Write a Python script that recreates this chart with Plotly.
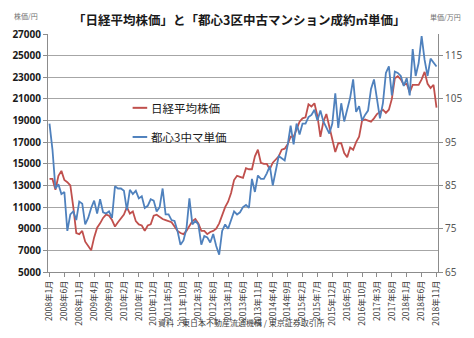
import plotly.graph_objects as go

# Month labels 2008年1月 .. 2018年11月
months = [f"{y}年{m}月" for y in range(2008, 2019) for m in range(1, 13)][:131]

# 日経平均株価 (円)
nikkei = [
    13600, 13600, 12600, 13900, 14350, 13500, 13300, 13000, 11000, 8600, 8500, 8800,   # 2008
    7800, 7400, 7000, 8200, 9100, 9500, 10000, 10300, 10200, 9800, 9200, 9600,         # 2009
    9900, 10300, 11000, 10400, 10600, 9700, 9400, 9300, 8800, 9300, 9400, 10200,       # 2010
    10300, 10100, 9900, 9800, 9700, 9600, 9200, 8800, 8600, 8500, 8800, 9200,          # 2011
    9700, 9900, 9500, 8800, 8800, 8500, 8700, 8800, 9000, 9500, 10300, 11000,          # 2012
    11500, 12300, 13500, 13900, 13800, 13700, 14600, 14500, 14500, 15700, 16300, 15100,  # 2013
    15000, 15000, 14500, 15100, 15400, 15700, 16300, 16400, 16800, 17500, 17500, 18200,  # 2014
    18900, 19200, 19300, 20500, 20300, 20600, 19400, 17500, 18900, 19600, 18500, 17400,  # 2015
    16100, 16900, 16900, 16000, 15600, 16500, 16300, 17000, 17500, 19000, 19100, 19000,  # 2016
    18900, 19200, 19600, 19800, 20000, 19700, 20000, 21000, 22900, 23100, 22800, 22300,  # 2017
    22400, 21600, 22300, 22300, 22300, 22800, 23500, 22400, 22000, 22300, 20200,         # 2018
]

# 都心3区中古マンション成約㎡単価 (万円)
condo = [
    99.3, 93.3, 84.3, 85.3, 83.0, 83.5, 74.5, 78.3, 79.0, 77.0, 81.3, 80.8,       # 2008
    76.0, 77.5, 79.8, 81.5, 78.5, 81.8, 78.8, 78.5, 79.0, 77.5, 84.8, 84.3,       # 2009
    84.3, 83.8, 79.3, 84.0, 83.0, 83.8, 82.0, 82.5, 79.8, 80.3, 81.8, 81.5,       # 2010
    79.0, 80.0, 84.3, 78.3, 78.3, 77.0, 76.8, 74.5, 71.3, 72.3, 75.0, 82.0,       # 2011
    76.0, 76.8, 76.0, 71.3, 73.3, 73.0, 71.8, 73.8, 71.0, 69.0, 74.5, 76.0,       # 2012
    75.0, 77.3, 79.0, 78.3, 78.8, 80.0, 80.5, 79.8, 86.5, 83.5, 87.3, 86.5,       # 2013
    86.5, 87.8, 89.5, 85.0, 88.8, 91.8, 91.3, 90.8, 94.3, 98.8, 94.5, 99.3,       # 2014
    96.8, 99.3, 99.3, 100.8, 101.3, 102.5, 100.0, 102.3, 99.8, 98.3, 97.0, 99.3,  # 2015
    106.3, 98.3, 104.0, 99.8, 102.5, 105.3, 109.5, 102.0, 103.3, 100.0, 101.3, 102.3,  # 2016
    107.3, 109.5, 105.0, 100.5, 104.0, 111.0, 112.5, 105.8, 111.3, 111.0, 110.3, 108.0,  # 2017
    109.8, 105.8, 116.5, 110.3, 113.3, 119.5, 114.0, 110.3, 114.3, 113.5, 112.5,         # 2018
]

tick_labels = months[::5]
left_ticks = list(range(5000, 27001, 2000))
right_ticks = [65, 75, 85, 95, 105, 115]

RED = "#c0504d"
BLUE = "#4f81bd"
GRID = "#a6a6a6"
JP = "Noto Sans CJK JP"

W, H = 474, 338
L, R, T, B = 38, 35, 34, 59


def px(x):
    return (x - L) / (W - L - R)


def py(y):
    return (H - B - y) / (H - T - B)


fig = go.Figure()
fig.add_trace(go.Scatter(x=months, y=nikkei, mode="lines", name="日経平均株価",
                         line=dict(color=RED, width=1.8), yaxis="y"))
fig.add_trace(go.Scatter(x=months, y=condo, mode="lines", name="都心3中マ単価",
                         line=dict(color=BLUE, width=1.8), yaxis="y2"))

fig.update_layout(
    width=W, height=H,
    margin=dict(l=L, r=R, t=T, b=B, pad=0),
    paper_bgcolor="white", plot_bgcolor="white",
    showlegend=False,
    font=dict(family=JP, color="#333"),
    xaxis=dict(
        type="category", categoryorder="array", categoryarray=months,
        range=[-0.5, len(months) - 0.5],
        tickmode="array", tickvals=tick_labels, ticktext=tick_labels,
        tickangle=-90, tickfont=dict(size=8.5, color="#404040", family=JP),
        ticks="outside", ticklen=4, tickcolor="#8c8c8c",
        showline=True, linecolor="#8c8c8c", linewidth=1,
        showgrid=False, zeroline=False,
    ),
    yaxis=dict(
        range=[5000, 27000], tickvals=left_ticks,
        ticktext=[str(v) for v in left_ticks],
        tickfont=dict(size=10, color="#1a1a1a", family="Noto Sans", weight="bold"),
        ticks="outside", ticklen=4, tickcolor="#8c8c8c",
        showline=True, linecolor="#8c8c8c", linewidth=1,
        showgrid=True, gridcolor=GRID, gridwidth=1.3, zeroline=False,
    ),
    yaxis2=dict(
        range=[65, 120], tickvals=right_ticks, overlaying="y", side="right",
        tickfont=dict(size=10, color="#595959", family="Noto Sans"),
        ticks="outside", ticklen=4, tickcolor="#8c8c8c",
        showline=True, linecolor="#8c8c8c", linewidth=1,
        showgrid=False, zeroline=False,
    ),
)

annotations = [
    dict(text="「日経平均株価」と「都心3区中古マンション成約㎡単価」",
         x=px(234), y=py(19), font=dict(size=12.5, color="#1a1a1a", family=JP, weight="bold")),
    dict(text="株価/円", x=px(15), y=py(15), font=dict(size=7, color="#707070", family=JP)),
    dict(text="単価/万円", x=px(447), y=py(17), font=dict(size=7, color="#707070", family=JP)),
    dict(text="日経平均株価", x=px(142), y=py(110), xanchor="left",
         font=dict(size=11.5, color="#1a1a1a", family=JP)),
    dict(text="都心3中マ単価", x=px(142), y=py(140), xanchor="left",
         font=dict(size=11.5, color="#1a1a1a", family=JP)),
    dict(text="資料：東日本不動産流通機構 / 東京証券取引所", x=px(237), y=py(331),
         font=dict(size=8, color="#404040", family=JP)),
]
for a in annotations:
    a.setdefault("xanchor", "center")
    fig.add_annotation(xref="paper", yref="paper", yanchor="middle", showarrow=False, **a)

# legend keys
fig.add_shape(type="line", xref="paper", yref="paper", x0=px(125), x1=px(140),
              y0=py(110), y1=py(110), line=dict(color=RED, width=2))
fig.add_shape(type="line", xref="paper", yref="paper", x0=px(125), x1=px(140),
              y0=py(140), y1=py(140), line=dict(color=BLUE, width=2))

fig.write_html("out.html")
